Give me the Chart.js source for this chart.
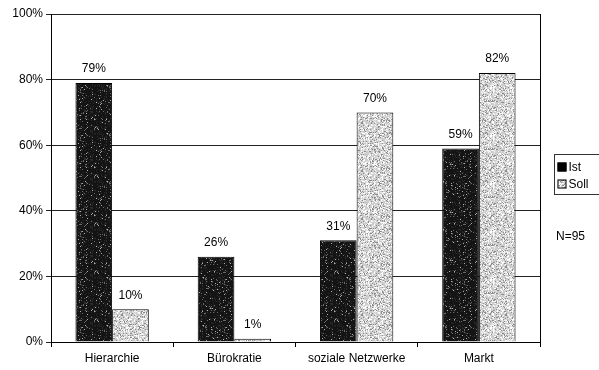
<!DOCTYPE html>
<html>
<head>
<meta charset="utf-8">
<script src="https://cdn.jsdelivr.net/npm/chart.js@4/dist/chart.umd.min.js"></script>
<style>
  html, body { margin: 0; padding: 0; background: #fff; }
  #wrap { width: 599px; height: 370px; position: relative; }
</style>
</head>
<body>
<div id="wrap"><canvas id="c" width="599" height="370"></canvas></div>
<script>
const categories = ['Hierarchie', 'Bürokratie', 'soziale Netzwerke', 'Markt'];
const istValues = [79, 26, 31, 59];
const sollValues = [10, 1, 70, 82];
const seriesNames = ['Ist', 'Soll'];
const sampleNote = 'N=95';

const FONT = 'Liberation Sans, Arial, sans-serif';

// Deterministic speckle textures for the two bar fills
function makeTexture(base, specks, size) {
  const c = document.createElement('canvas');
  c.width = size; c.height = size;
  const g = c.getContext('2d');
  g.fillStyle = base;
  g.fillRect(0, 0, size, size);
  let s = 12345;
  const next = () => { s = (s * 1103515245 + 12345) & 0x7fffffff; return s / 0x7fffffff; };
  specks.forEach(([color, count]) => {
    g.fillStyle = color;
    for (let i = 0; i < count; i++) {
      g.fillRect(Math.floor(next() * size), Math.floor(next() * size), 1, 1);
    }
  });
  return g.createPattern(c, 'repeat');
}
const ctx = document.getElementById('c').getContext('2d');
const istFill = makeTexture('#141414', [['#6a6a6a', 160], ['#b0b0b0', 60], ['#2c2c2c', 300]], 48);
const sollFill = makeTexture('#cccccc', [['#ffffff', 800], ['#8c8c8c', 450], ['#e6e6e6', 400]], 48);

const valueLabels = {
  id: 'valueLabels',
  afterDatasetsDraw(chart) {
    const g = chart.ctx;
    g.save();
    g.font = '12px ' + FONT;
    g.fillStyle = '#000';
    g.textAlign = 'center';
    g.textBaseline = 'bottom';
    chart.data.datasets.forEach((ds, i) => {
      chart.getDatasetMeta(i).data.forEach((bar, j) => {
        g.fillText(ds.data[j] + '%', bar.x, bar.y - 8);
      });
    });
    g.restore();
  }
};

const frameAndLegend = {
  id: 'frameAndLegend',
  afterDraw(chart) {
    const g = chart.ctx;
    const a = chart.chartArea;
    g.save();
    g.strokeStyle = '#000';
    g.lineWidth = 1;
    g.beginPath();
    g.moveTo(Math.round(a.right) + 0.5, a.top);
    g.lineTo(Math.round(a.right) + 0.5, a.bottom);
    g.stroke();

    // legend box
    const lx = 554.5, ly = 154.5, lw = 50, lh = 40;
    g.strokeStyle = '#333';
    g.strokeRect(lx, ly, lw, lh);
    const fills = ['#000', sollFill];
    g.font = '12px ' + FONT;
    g.textBaseline = 'middle';
    g.textAlign = 'left';
    seriesNames.forEach((name, i) => {
      const y = ly + 12 + i * 17;
      g.fillStyle = fills[i];
      g.fillRect(lx + 3, y - 4, 9, 9);
      g.strokeStyle = '#000';
      g.strokeRect(lx + 3.5, y - 3.5, 8, 8);
      g.fillStyle = '#000';
      g.fillText(name, lx + 14, y + 1);
    });
    g.fillText(sampleNote, 556, 237);
    g.restore();
  }
};

new Chart(ctx, {
  type: 'bar',
  data: {
    labels: categories,
    datasets: [
      { label: seriesNames[0], data: istValues, backgroundColor: istFill, borderColor: '#000', borderWidth: 1 },
      { label: seriesNames[1], data: sollValues, backgroundColor: sollFill, borderColor: '#000', borderWidth: 1 }
    ]
  },
  options: {
    responsive: false,
    animation: false,
    events: [],
    layout: { padding: { top: 14, right: 59, left: 0, bottom: 0 } },
    plugins: { legend: { display: false }, tooltip: { enabled: false } },
    datasets: { bar: { categoryPercentage: 0.6, barPercentage: 1.0 } },
    scales: {
      x: {
        grid: { drawOnChartArea: false, drawTicks: true, tickLength: 5, offset: true, color: '#000' },
        border: { color: '#000', width: 1 },
        ticks: { color: '#000', font: { family: FONT, size: 12 }, padding: 4, maxRotation: 0 },
        afterFit(scale) { scale.height = 28; }
      },
      y: {
        min: 0, max: 100,
        grid: { color: '#222', lineWidth: 1, tickLength: 5 },
        border: { color: '#000', width: 1 },
        ticks: { stepSize: 20, color: '#000', font: { family: FONT, size: 12 }, padding: 3,
                 callback: v => v + '%' },
        afterFit(scale) { scale.width = 51; }
      }
    }
  },
  plugins: [valueLabels, frameAndLegend]
});
</script>
</body>
</html>
